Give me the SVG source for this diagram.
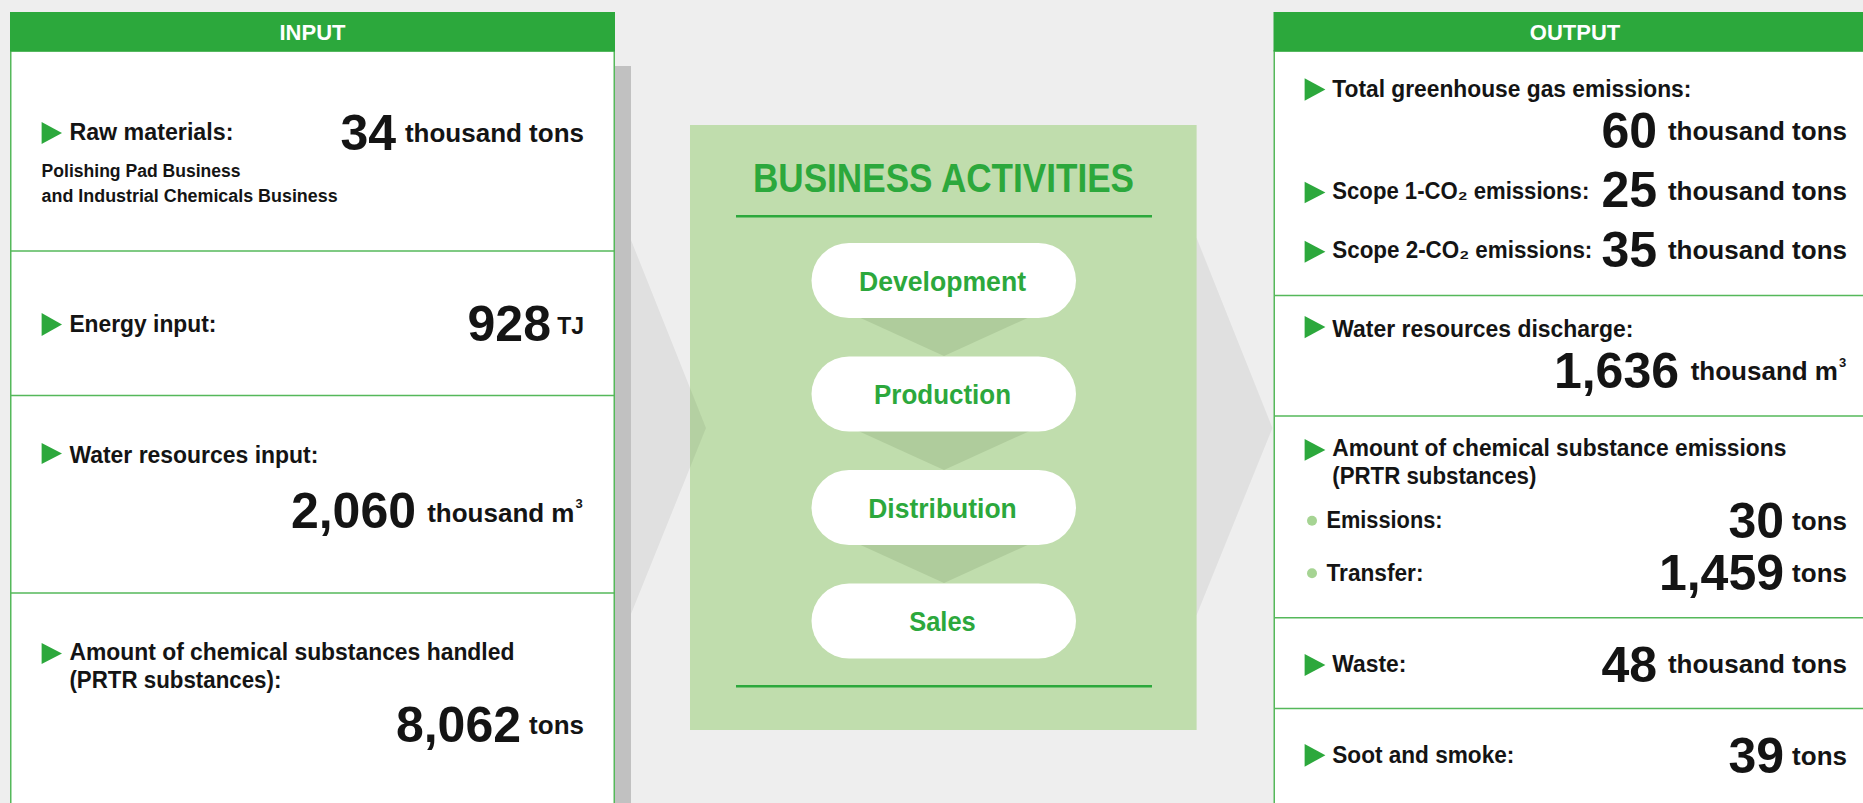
<svg xmlns="http://www.w3.org/2000/svg" width="1863" height="803" viewBox="0 0 1863 803">
<style>
text{font-family:"Liberation Sans",Arial,sans-serif;font-weight:bold;fill:#141414}
.lbl{font-size:23px}
.sub{font-size:17.5px}
.num{font-size:50px;text-anchor:end}
.unit{font-size:26px;text-anchor:end}
.sup{font-size:13px}
.hdr{font-size:22px;fill:#fff;text-anchor:middle}
.title{font-size:40px;fill:#2ca83c;text-anchor:middle}
.step{font-size:27px;fill:#2ca83c;text-anchor:middle}
.hbar{fill:#2ca83c}
.panel{fill:#fff;stroke:#55b85a;stroke-width:1.5}
.div{stroke:#55b85a;stroke-width:1.5}
.tri{fill:#2ca83c}
.dot{fill:#a6d493}
.pill{fill:#fff}
.link{fill:#afcc9c}
</style>
<rect x="0" y="0" width="1863" height="803" fill="#eeeeee"/>
<rect x="615" y="66" width="16" height="740" fill="#c1c1c1"/>

<g id="connectors">
<polygon points="1150,238 1196.6,238 1272.4,428 1196.6,615 1150,615" fill="#e0e0e0"/>
</g>

<g id="business-activities">
<rect x="690" y="125" width="506.6" height="605" fill="#c0ddad"/>
<text class="title" x="943.5" y="191.5" textLength="381" lengthAdjust="spacingAndGlyphs">BUSINESS ACTIVITIES</text>
<rect x="736" y="215" width="416" height="2.5" fill="#2ca83c"/>
<rect x="736" y="685" width="416" height="2.5" fill="#2ca83c"/>
</g>

<g id="flow-connectors">
<polygon points="631,240 706,428 631,614" fill="#000" fill-opacity="0.06"/>
<polygon points="843,310 1045,310 944,356" class="link"/>
<polygon points="843,424 1045,424 944,470" class="link"/>
<polygon points="843,537 1045,537 944,583" class="link"/>
</g>

<g id="step-development">
<rect class="pill" x="811.5" y="243" width="264.5" height="75" rx="37.5"/>
<text class="step" x="942.5" y="291" textLength="167" lengthAdjust="spacingAndGlyphs">Development</text>
</g>
<g id="step-production">
<rect class="pill" x="811.5" y="356.5" width="264.5" height="75" rx="37.5"/>
<text class="step" x="942.5" y="404" textLength="137" lengthAdjust="spacingAndGlyphs">Production</text>
</g>
<g id="step-distribution">
<rect class="pill" x="811.5" y="470" width="264.5" height="75" rx="37.5"/>
<text class="step" x="942.5" y="517.5" textLength="148.5" lengthAdjust="spacingAndGlyphs">Distribution</text>
</g>
<g id="step-sales">
<rect class="pill" x="811.5" y="583.5" width="264.5" height="75" rx="37.5"/>
<text class="step" x="942.5" y="630.5" textLength="66.5" lengthAdjust="spacingAndGlyphs">Sales</text>
</g>

<g id="input-panel">
<rect class="panel" x="10.75" y="51" width="603.5" height="800"/>
<rect class="hbar" x="10" y="12" width="605" height="39.5"/>
<text class="hdr" x="312.5" y="39.5">INPUT</text>
<line class="div" x1="10" y1="251" x2="615" y2="251"/>
<line class="div" x1="10" y1="395.5" x2="615" y2="395.5"/>
<line class="div" x1="10" y1="593" x2="615" y2="593"/>

<g id="in-raw">
<polygon class="tri" points="41.6,122 62,133 41.6,144"/>
<text class="lbl" x="69.4" y="140" textLength="164" lengthAdjust="spacingAndGlyphs">Raw materials:</text>
<text class="num" x="396" y="149.5">34</text>
<text class="unit" x="584" y="141.5">thousand tons</text>
<text class="sub" x="41.6" y="177" textLength="199" lengthAdjust="spacingAndGlyphs">Polishing Pad Business</text>
<text class="sub" x="41.6" y="202" textLength="296" lengthAdjust="spacingAndGlyphs">and Industrial Chemicals Business</text>
</g>
<g id="in-energy">
<polygon class="tri" points="41.6,313 62,324.5 41.6,336"/>
<text class="lbl" x="69.4" y="332" textLength="147" lengthAdjust="spacingAndGlyphs">Energy input:</text>
<text class="num" x="551" y="341">928</text>
<text class="unit" x="584" y="334" style="font-size:23px">TJ</text>
</g>
<g id="in-water">
<polygon class="tri" points="41.6,443 62,453.5 41.6,464"/>
<text class="lbl" x="69.4" y="462.7" textLength="249" lengthAdjust="spacingAndGlyphs">Water resources input:</text>
<text class="num" x="416" y="528">2,060</text>
<text class="unit" x="574.5" y="522">thousand m</text>
<text class="sup" x="575.5" y="508">3</text>
</g>
<g id="in-chemicals">
<polygon class="tri" points="41.6,643 62,653.5 41.6,664"/>
<text class="lbl" x="69.4" y="660" textLength="445" lengthAdjust="spacingAndGlyphs">Amount of chemical substances handled</text>
<text class="lbl" x="69.4" y="688" textLength="212" lengthAdjust="spacingAndGlyphs">(PRTR substances):</text>
<text class="num" x="521" y="742">8,062</text>
<text class="unit" x="584" y="734">tons</text>
</g>
</g>

<g id="output-panel">
<rect class="panel" x="1274.25" y="51" width="620" height="800"/>
<rect class="hbar" x="1273.5" y="12" width="600" height="39.5"/>
<text class="hdr" x="1575" y="39.5">OUTPUT</text>
<line class="div" x1="1274" y1="295.5" x2="1863" y2="295.5"/>
<line class="div" x1="1274" y1="416" x2="1863" y2="416"/>
<line class="div" x1="1274" y1="617.7" x2="1863" y2="617.7"/>
<line class="div" x1="1274" y1="708.5" x2="1863" y2="708.5"/>

<g id="out-ghg">
<polygon class="tri" points="1304.6,78.3 1325.4,89.5 1304.6,100.7"/>
<text class="lbl" x="1332.3" y="96.7" textLength="359" lengthAdjust="spacingAndGlyphs">Total greenhouse gas emissions:</text>
<text class="num" x="1657" y="148">60</text>
<text class="unit" x="1847" y="140">thousand tons</text>
</g>
<g id="out-scope1">
<polygon class="tri" points="1304.6,181.7 1325.4,192.5 1304.6,203.3"/>
<text class="lbl" x="1332.3" y="199.3" textLength="257" lengthAdjust="spacingAndGlyphs">Scope 1-CO₂ emissions:</text>
<text class="num" x="1657" y="207">25</text>
<text class="unit" x="1847" y="200">thousand tons</text>
</g>
<g id="out-scope2">
<polygon class="tri" points="1304.6,240.7 1325.4,251.7 1304.6,262.7"/>
<text class="lbl" x="1332.3" y="258.3" textLength="260" lengthAdjust="spacingAndGlyphs">Scope 2-CO₂ emissions:</text>
<text class="num" x="1657" y="266.5">35</text>
<text class="unit" x="1847" y="259.3">thousand tons</text>
</g>
<g id="out-water">
<polygon class="tri" points="1304.6,316 1325.4,327 1304.6,338.3"/>
<text class="lbl" x="1332.3" y="336.7" textLength="301" lengthAdjust="spacingAndGlyphs">Water resources discharge:</text>
<text class="num" x="1679" y="388">1,636</text>
<text class="unit" x="1838" y="380">thousand m</text>
<text class="sup" x="1839" y="366.5">3</text>
</g>
<g id="out-chemicals">
<polygon class="tri" points="1304.6,439 1325.4,450 1304.6,460.7"/>
<text class="lbl" x="1332.3" y="455.7" textLength="454" lengthAdjust="spacingAndGlyphs">Amount of chemical substance emissions</text>
<text class="lbl" x="1332.3" y="484" textLength="204" lengthAdjust="spacingAndGlyphs">(PRTR substances)</text>
<circle class="dot" cx="1312" cy="520.7" r="5"/>
<text class="lbl" x="1326.5" y="528.3" textLength="116" lengthAdjust="spacingAndGlyphs">Emissions:</text>
<text class="num" x="1784" y="538">30</text>
<text class="unit" x="1847" y="529.5">tons</text>
<circle class="dot" cx="1312" cy="573.3" r="5"/>
<text class="lbl" x="1326.5" y="580.7" textLength="97" lengthAdjust="spacingAndGlyphs">Transfer:</text>
<text class="num" x="1784" y="590">1,459</text>
<text class="unit" x="1847" y="581.7">tons</text>
</g>
<g id="out-waste">
<polygon class="tri" points="1304.6,654 1325.4,665 1304.6,676"/>
<text class="lbl" x="1332.3" y="671.7" textLength="74" lengthAdjust="spacingAndGlyphs">Waste:</text>
<text class="num" x="1657" y="681.7">48</text>
<text class="unit" x="1847" y="673.3">thousand tons</text>
</g>
<g id="out-soot">
<polygon class="tri" points="1304.6,744 1325.4,755.3 1304.6,766.7"/>
<text class="lbl" x="1332.3" y="763.3" textLength="182" lengthAdjust="spacingAndGlyphs">Soot and smoke:</text>
<text class="num" x="1784" y="772.7">39</text>
<text class="unit" x="1847" y="765">tons</text>
</g>
</g>
</svg>
